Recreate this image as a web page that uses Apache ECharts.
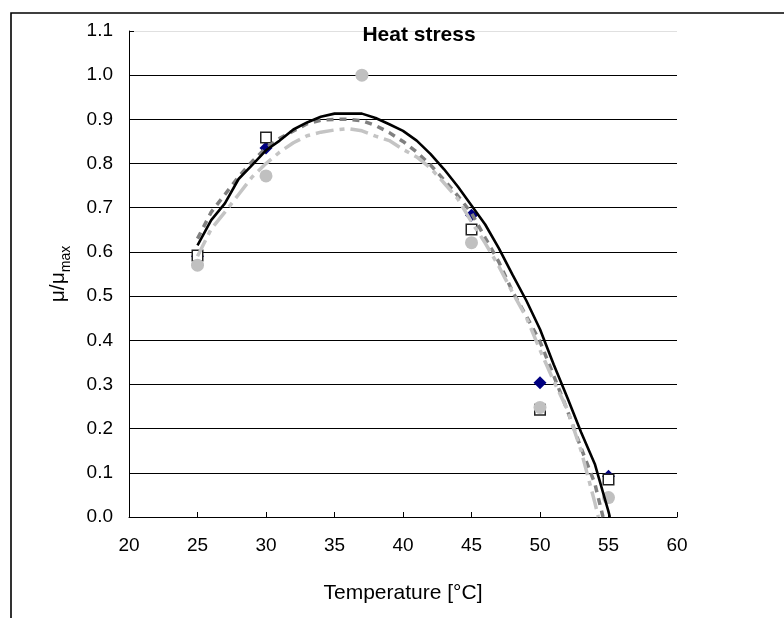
<!DOCTYPE html>
<html>
<head>
<meta charset="utf-8">
<script src="https://cdn.jsdelivr.net/npm/echarts@6/dist/echarts.min.js"></script>
<style>html,body{margin:0;padding:0;background:#fff;}#c{width:784px;height:618px;}</style>
</head>
<body>
<div id="c"></div>
<script>
// Measured data
const markX = [25, 30, 45, 50, 55];
const diamondY = [0.59, 0.835, 0.683, 0.304, 0.092];
const squareY = [0.592, 0.859, 0.651, 0.243, 0.085];
const circleX = [25, 30, 37, 45, 50, 55];
const circleY = [0.57, 0.772, 1.0, 0.621, 0.248, 0.044];

const blackX = [25,26,27,28,29,30,31,32,33,34,35,36,37,38,39,40,41,42,43,44,45,46,47,48,49,50,51,52,53,54,55,55.1];
const blackY = [0.615,0.672,0.71,0.765,0.797,0.83,0.852,0.877,0.893,0.906,0.913,0.913,0.913,0.903,0.889,0.874,0.852,0.822,0.787,0.748,0.705,0.662,0.608,0.548,0.49,0.425,0.345,0.27,0.192,0.12,0.012,0];

const darkX = [25,26,27,28,29,30,31,32,33,34,35,36,37,38,39,40,41,42,43,44,45,46,47,48,49,50,51,52,53,54,54.6];
const darkY = [0.63,0.69,0.73,0.77,0.805,0.835,0.857,0.874,0.89,0.898,0.9,0.9,0.897,0.886,0.87,0.85,0.826,0.797,0.763,0.727,0.688,0.632,0.577,0.51,0.455,0.397,0.32,0.241,0.156,0.076,0];

const lightX = [25,26,27,28,29,30,31,32,33,34,35,36,37,38,39,40,41,42,43,44,45,46,47,48,49,50,51,52,53,54,54.26];
const lightY = [0.59,0.652,0.69,0.73,0.77,0.80,0.826,0.847,0.863,0.871,0.876,0.879,0.874,0.862,0.852,0.832,0.815,0.79,0.756,0.72,0.668,0.62,0.567,0.508,0.452,0.378,0.308,0.243,0.15,0.033,0];

const xTicks = [20, 25, 30, 35, 40, 45, 50, 55, 60];
const yTicks = [0.0, 0.1, 0.2, 0.3, 0.4, 0.5, 0.6, 0.7, 0.8, 0.9, 1.0, 1.1];

const zip = (xs, ys) => xs.map((x, i) => [x, ys[i]]);
const FONT = 'Liberation Sans, Arial, sans-serif';

const chart = echarts.init(document.getElementById('c'), null, {renderer: 'canvas'});
chart.setOption({
  animation: false,
  backgroundColor: '#fff',
  title: {
    text: 'Heat stress',
    left: 419, top: 25, textAlign: 'center', padding: 0,
    textStyle: {fontFamily: FONT, fontSize: 21, fontWeight: 'bold', color: '#000'}
  },
  graphic: [{
    type: 'rect', z: -1, silent: true,
    shape: {x: 11, y: 13, width: 820, height: 700},
    style: {fill: 'none', stroke: '#000', lineWidth: 1.6}
  }],
  grid: {left: 129, right: 107, top: 31, bottom: 101},
  xAxis: {
    type: 'value', min: xTicks[0], max: xTicks[xTicks.length - 1], interval: 5,
    name: 'Temperature [°C]', nameLocation: 'middle', nameGap: 66,
    nameTextStyle: {fontFamily: FONT, fontSize: 21, color: '#000'},
    axisLine: {lineStyle: {color: '#000', width: 1}},
    axisTick: {inside: true, length: 5, lineStyle: {color: '#000'}},
    axisLabel: {fontFamily: FONT, fontSize: 19, color: '#000', margin: 19},
    splitLine: {show: false}
  },
  yAxis: {
    type: 'value', min: yTicks[0], max: yTicks[yTicks.length - 1], interval: 0.1,
    name: '{a|μ/μ}{b|max}', nameLocation: 'middle', nameGap: 60, nameRotate: 90,
    nameTextStyle: {
      fontFamily: FONT, color: '#000',
      rich: {
        a: {fontFamily: FONT, fontSize: 21, color: '#000', lineHeight: 28, verticalAlign: 'bottom'},
        b: {fontFamily: FONT, fontSize: 14, color: '#000', lineHeight: 28, verticalAlign: 'bottom', padding: [0, 0, -4, 0]}
      }
    },
    axisLine: {show: true, lineStyle: {color: '#000', width: 1}},
    axisTick: {show: true, inside: true, length: 5, lineStyle: {color: '#000'}},
    axisLabel: {fontFamily: FONT, fontSize: 19, color: '#000', margin: 16,
      formatter: v => v.toFixed(1)},
    splitLine: {show: true, lineStyle: {color: ['#000','#000','#000','#000','#000','#000','#000','#000','#000','#000','#000','#e0e0e0'], width: 1}}
  },
  series: [
    {type: 'scatter', name: 'diamond', data: zip(markX, diamondY), symbol: 'diamond', symbolSize: [13, 13],
     itemStyle: {color: '#000080', opacity: 1}, z: 2},
    {type: 'scatter', name: 'square', data: zip(markX, squareY), symbol: 'rect', symbolSize: 10.5,
     itemStyle: {color: '#fff', borderColor: '#222', borderWidth: 1.5, opacity: 1}, z: 3},
    {type: 'scatter', name: 'circle', data: zip(circleX, circleY), symbol: 'circle', symbolSize: 13,
     itemStyle: {color: '#c0c0c0', opacity: 1}, z: 4},
    {type: 'line', name: 'model2', data: zip(darkX, darkY), showSymbol: false, symbol: 'none',
     lineStyle: {color: '#808080', width: 3.5, type: [7, 6]}, z: 5},
    {type: 'line', name: 'model3', data: zip(lightX, lightY), showSymbol: false, symbol: 'none',
     lineStyle: {color: '#c4c4c4', width: 3.5, type: [18, 6, 5, 6]}, z: 6},
    {type: 'line', name: 'model1', data: zip(blackX, blackY), showSymbol: false, symbol: 'none',
     lineStyle: {color: '#000', width: 2.6}, z: 7}
  ]
});
</script>
</body>
</html>
